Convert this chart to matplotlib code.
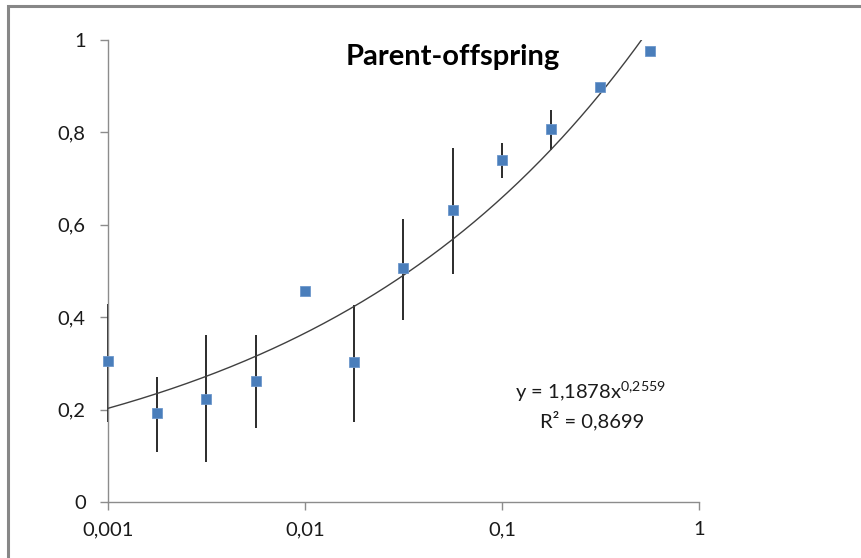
import numpy as np
import matplotlib.pyplot as plt
from matplotlib.patches import Rectangle
from matplotlib.ticker import FixedLocator, FuncFormatter, NullLocator

plt.rcParams['font.family'] = ['Lato', 'DejaVu Sans']

# distance class (log scale) and parent-offspring similarity
x = [0.001, 0.00178, 0.00316, 0.00562, 0.01, 0.0178, 0.0316, 0.0562, 0.1, 0.178, 0.316, 0.562]
y = [0.305, 0.193, 0.224, 0.262, 0.457, 0.302, 0.506, 0.632, 0.740, 0.807, 0.899, 0.976]
y_hi = [0.429, 0.271, 0.361, 0.361, 0.457, 0.426, 0.613, 0.766, 0.777, 0.848, 0.904, 0.984]
y_lo = [0.173, 0.108, 0.087, 0.160, 0.457, 0.173, 0.394, 0.494, 0.701, 0.762, 0.894, 0.968]

# power trendline from the chart
coef_a = 1.1878
coef_b = 0.2559
r2 = "0,8699"

x_ticks = [0.001, 0.01, 0.1, 1]
y_ticks = [0, 0.2, 0.4, 0.6, 0.8, 1]


def comma(v, pos=None):
    s = ("%g" % v).replace(".", ",")
    return s


fig = plt.figure(figsize=(8.62, 5.58), dpi=100)
ax = fig.add_axes([108 / 862, 56 / 558, 591 / 862, 462 / 558])

# outer chart frame (only top and left visible in the crop)
fig.patches.append(Rectangle((8 / 862, -0.2), 1.5, (558 - 6) / 558 + 0.2,
                             transform=fig.transFigure, fill=False,
                             edgecolor="#878787", linewidth=2.2))

err = [np.array(y) - np.array(y_lo), np.array(y_hi) - np.array(y)]
eb = ax.errorbar(x, y, yerr=err, fmt="none", ecolor="#1a1a1a", elinewidth=1.3, capsize=0, zorder=2)
for coll in eb.lines[2]:
    coll.set_clip_on(False)

xt = np.logspace(-3, np.log10(0.6), 300)
ax.plot(xt, coef_a * xt ** coef_b, color="#404040", linewidth=1.0, zorder=3)

ax.plot(x, y, "s", color="#4A7EBB", markersize=6.5, markeredgecolor="#6d97cc",
        markeredgewidth=0.6, zorder=4, clip_on=False)

ax.set_xscale("log")
ax.set_xlim(0.001, 1)
ax.set_ylim(0, 1)
ax.xaxis.set_major_locator(FixedLocator(x_ticks))
ax.xaxis.set_minor_locator(NullLocator())
ax.xaxis.set_major_formatter(FuncFormatter(comma))
ax.yaxis.set_major_locator(FixedLocator(y_ticks))
ax.yaxis.set_major_formatter(FuncFormatter(comma))

for s in ["top", "right"]:
    ax.spines[s].set_visible(False)
for s in ["left", "bottom"]:
    ax.spines[s].set_color("#8c8c8c")
    ax.spines[s].set_linewidth(1.0)

ax.tick_params(axis="both", length=6, width=1.0, color="#8c8c8c",
               labelsize=14.5, labelcolor="#1a1a1a")
ax.tick_params(axis="y", pad=10)
ax.tick_params(axis="x", pad=8)

ax.text(0.584, 0.963, "Parent-offspring", transform=ax.transAxes,
        ha="center", va="center", fontsize=21, fontweight="bold", color="black")

ax.text(0.8156, 0.238, "y = 1,1878x$^{\\mathregular{0{,}2559}}$", transform=ax.transAxes,
        ha="center", va="center", fontsize=14.5, color="#1a1a1a")
ax.text(0.819, 0.177, "R² = " + r2, transform=ax.transAxes,
        ha="center", va="center", fontsize=14.5, color="#1a1a1a")

fig.savefig("out.png", dpi=100)
